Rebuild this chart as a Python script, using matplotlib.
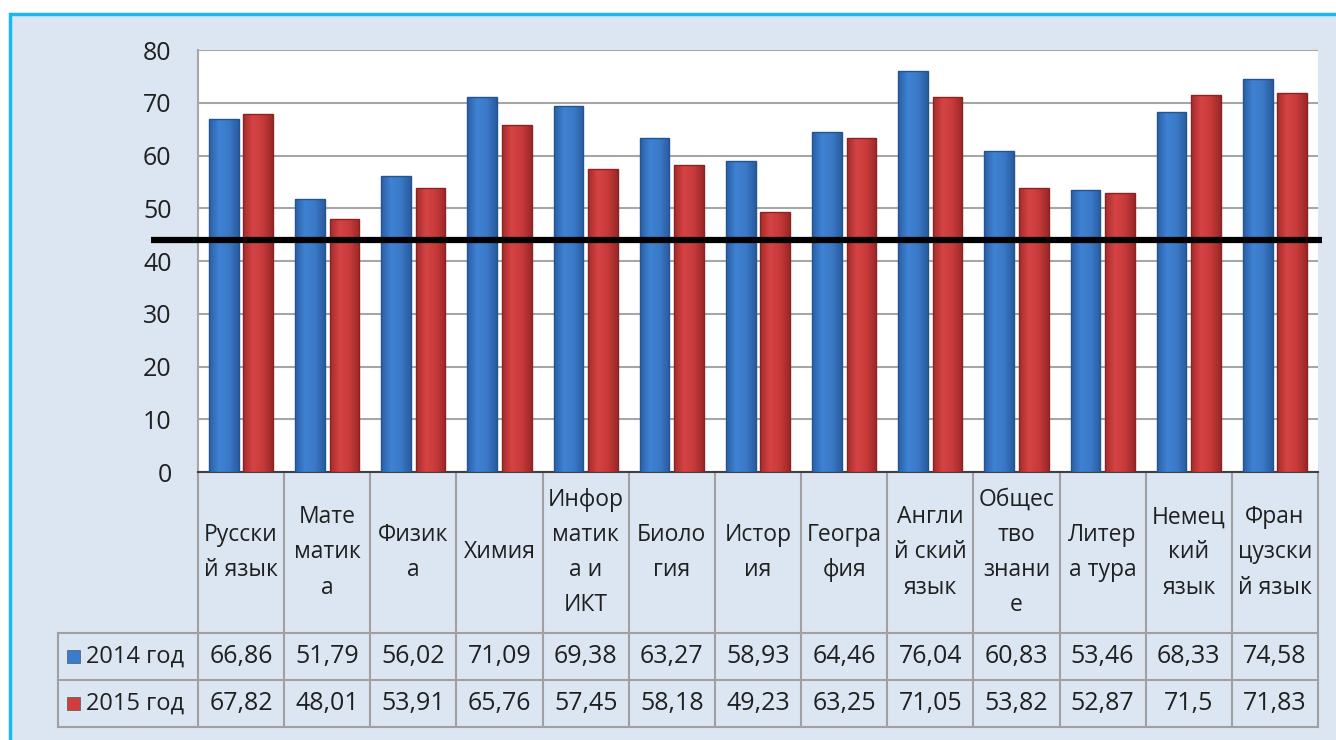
import matplotlib
matplotlib.use("Agg")
import matplotlib.pyplot as plt
from matplotlib.patches import Rectangle
from matplotlib.lines import Line2D
from matplotlib.colors import LinearSegmentedColormap
import numpy as np

plt.rcParams['font.family'] = ['Open Sans', 'DejaVu Sans']

# данные
subjects = ["Русски\nй язык", "Мате\nматик\nа", "Физик\nа", "Химия",
            "Инфор\nматик\nа и\nИКТ", "Биоло\nгия", "Истор\nия", "Геогра\nфия",
            "Англи\nй ский\nязык", "Общес\nтво\nзнани\nе", "Литер\nа тура",
            "Немец\nкий\nязык", "Фран\nцузски\nй язык"]
y2014 = [66.86, 51.79, 56.02, 71.09, 69.38, 63.27, 58.93, 64.46, 76.04, 60.83, 53.46, 68.33, 74.58]
y2015 = [67.82, 48.01, 53.91, 65.76, 57.45, 58.18, 49.23, 63.25, 71.05, 53.82, 52.87, 71.5, 71.83]
series_names = ["2014 год", "2015 год"]
threshold = 44

W, H = 1336, 740
fig = plt.figure(figsize=(W / 100, H / 100), dpi=100)
fig.patch.set_facecolor("white")

# фон с рамкой
fig.patches.append(Rectangle((10 / W, -0.05), 1.1, 1 - 14 / H + 0.05, transform=fig.transFigure,
                             facecolor="#dce6f2", edgecolor="#1ab8f0", linewidth=2.5, zorder=-10))

left, right, top, bottom = 198, 1318, 50, 472
ax = fig.add_axes([left / W, 1 - bottom / H, (right - left) / W, (bottom - top) / H])
ax.set_zorder(1)
ax.set_facecolor("white")

n = len(subjects)
x = np.arange(n)
bw = 0.345
c_blue, c_red = "#3a7ccb", "#cf3d3d"
cm_blue = LinearSegmentedColormap.from_list("b", ["#2a5fa6", "#3f82d3", "#3a79c8", "#2a5c9e"])
cm_red = LinearSegmentedColormap.from_list("r", ["#a52c2c", "#d64444", "#c83a3a", "#9a2828"])
grad = np.linspace(0, 1, 64).reshape(1, -1)
for vals, off, cmap, ec in [(y2014, -0.2, cm_blue, "#22548f"), (y2015, 0.2, cm_red, "#8a2424")]:
    bars = ax.bar(x + off, vals, bw, color="none", edgecolor=ec, linewidth=1.0, zorder=4)
    for b in bars:
        x0, w, h = b.get_x(), b.get_width(), b.get_height()
        im = ax.imshow(grad, cmap=cmap, aspect="auto", extent=(x0, x0 + w, 0, h),
                       interpolation="bicubic", zorder=3)
        im.set_clip_path(b)

ax.set_xlim(-0.5, n - 0.5)
ax.set_ylim(0, 80)
ax.set_yticks(range(0, 81, 10))
ax.yaxis.grid(True, color="#a6a6a6", linewidth=1.5, zorder=0)
ax.set_axisbelow(True)
ax.set_xticks([])
ax.tick_params(axis="y", length=0, pad=19, labelsize=18, labelcolor="#202020")
for s in ["top", "right"]:
    ax.spines[s].set_visible(False)
ax.spines["left"].set_color("#a6a6a6")
ax.spines["left"].set_linewidth(1.5)
ax.spines["bottom"].set_color("#404040")
ax.spines["bottom"].set_linewidth(1.5)

# линия порога
ax.add_line(Line2D([-1.05, n - 0.45], [threshold, threshold], color="black", linewidth=4.5,
                   solid_capstyle="butt", clip_on=False, zorder=5))

# таблица данных
tr = ax.get_xaxis_transform()
axh = bottom - top
def fy(py):
    return (bottom - py) / axh

y_head, y_r1, y_r2 = fy(633), fy(680), fy(727)
x_lab = -0.5 - (left - 58) / ((right - left) / n)
lc = "#a0a0a0"
for b in np.arange(n + 1) - 0.5:
    ax.add_line(Line2D([b, b], [0, y_r2], transform=tr, color=lc, lw=1.5, clip_on=False))
ax.add_line(Line2D([x_lab, x_lab], [y_head, y_r2], transform=tr, color=lc, lw=1.5, clip_on=False))
for yy in [y_head, y_r1, y_r2]:
    ax.add_line(Line2D([x_lab, n - 0.5], [yy, yy], transform=tr, color=lc, lw=1.5, clip_on=False))

for i, s in enumerate(subjects):
    ax.text(i, (0 + y_head) / 2, s, transform=tr, ha="center", va="center",
            fontsize=16.5, color="#202020", linespacing=1.62)
for row, (vals, yc) in enumerate([(y2014, (y_head + y_r1) / 2), (y2015, (y_r1 + y_r2) / 2)]):
    for i, v in enumerate(vals):
        ax.text(i, yc, str(v).replace(".", ","), transform=tr, ha="center", va="center",
                fontsize=18, color="#202020")
    col = c_blue if row == 0 else c_red
    ax.add_patch(Rectangle((x_lab + 0.1, yc - 0.016), 0.15, 0.032, transform=tr,
                           facecolor=col, edgecolor="#555555", lw=0.5, clip_on=False))
    ax.text(x_lab + 0.33, yc, series_names[row], transform=tr, ha="left", va="center",
            fontsize=17, color="#202020")

fig.savefig("out.png", dpi=100, facecolor=fig.get_facecolor())
